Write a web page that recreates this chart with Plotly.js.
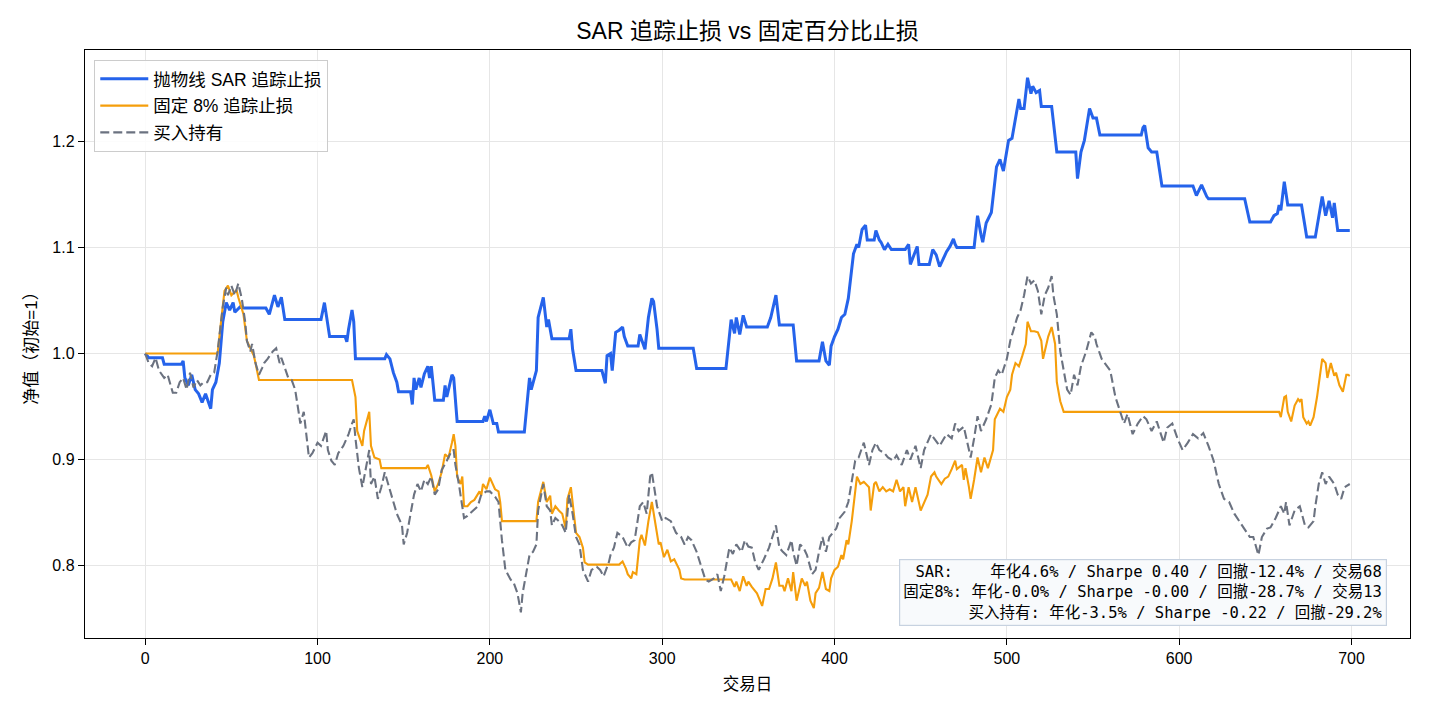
<!DOCTYPE html>
<html>
<head>
<meta charset="utf-8">
<script src="https://cdn.plot.ly/plotly-3.0.1.min.js"></script>
<style>html,body{margin:0;padding:0;background:#fff;}#chart{width:1430px;height:715px;}</style>
</head>
<body>
<div id="chart"></div>
<script>
// ---- data ----
const sarDay = [0,2,10,11,21,22,23,25,27,29,
 31,33,35,38,39,41,43,45,47,49,
 51,52,55,57,70,72,75,77,79,81,
 102,104,107,116,117,118,120,121,122,139,
 140,142,144,146,147,154,155,156,157,159,
 160,162,164,165,166,168,173,174,175,178,
 179,181,196,197,198,200,202,204,205,220,
 223,224,227,228,231,233,234,236,246,247,
 248,250,265,267,268,270,271,273,275,277,
 278,280,286,287,290,292,294,295,297,298,
 318,320,337,338,339,340,342,343,345,347,
 349,361,363,366,368,376,378,391,393,395,
 397,398,400,402,404,406,408,411,413,414,
 416,418,419,423,424,426,427,429,431,433,
 441,443,444,448,449,455,457,459,461,463,
 465,467,469,470,471,481,483,485,486,488,
 491,494,496,498,500,501,503,505,507,508,
 510,512,514,515,517,519,520,526,529,540,
 541,543,545,548,550,552,554,578,579,580,
 582,584,587,590,608,610,613,616,617,638,
 641,653,655,657,658,659,661,663,669,671,
 673,674,679,681,683,685,687,689,690,692,
 699];
const sarVal = [1.000,0.996,0.996,0.990,0.990,0.993,0.977,0.970,0.980,0.966,
 0.962,0.954,0.962,0.948,0.966,0.973,0.991,1.030,1.048,1.041,
 1.048,1.039,1.044,1.043,1.043,1.037,1.055,1.044,1.053,1.032,
 1.032,1.048,1.016,1.016,1.011,1.023,1.041,1.030,0.995,0.995,
 0.999,0.995,0.982,0.973,0.964,0.964,0.952,0.977,0.966,0.977,
 0.968,0.981,0.988,0.977,0.988,0.956,0.956,0.970,0.959,0.980,
 0.977,0.936,0.936,0.941,0.936,0.947,0.934,0.934,0.926,0.926,
 0.977,0.966,0.984,1.034,1.053,1.025,1.032,1.014,1.014,1.023,
 1.004,0.984,0.984,0.972,0.998,1.000,0.984,1.020,1.022,1.025,
 1.016,1.007,1.007,1.018,1.004,1.034,1.052,1.049,1.023,1.005,
 1.005,0.986,0.986,1.002,1.012,1.032,1.019,1.034,1.018,1.036,
 1.025,1.025,1.034,1.055,1.027,1.027,0.993,0.993,1.011,0.993,
 0.989,1.007,1.016,1.023,1.034,1.037,1.052,1.094,1.103,1.100,
 1.117,1.121,1.107,1.107,1.116,1.107,1.105,1.098,1.103,1.098,
 1.098,1.103,1.084,1.101,1.084,1.084,1.098,1.093,1.082,1.089,
 1.096,1.101,1.108,1.103,1.100,1.100,1.130,1.112,1.105,1.123,
 1.133,1.176,1.183,1.172,1.190,1.201,1.203,1.222,1.240,1.231,
 1.231,1.260,1.245,1.252,1.246,1.248,1.233,1.233,1.190,1.190,
 1.165,1.190,1.201,1.231,1.222,1.222,1.206,1.206,1.213,1.215,
 1.194,1.190,1.190,1.158,1.158,1.149,1.159,1.148,1.146,1.146,
 1.124,1.124,1.130,1.132,1.140,1.135,1.162,1.140,1.140,1.140,
 1.120,1.110,1.110,1.130,1.148,1.130,1.144,1.128,1.142,1.116,
 1.116];

const fixDay = [0,42,44,46,48,50,53,54,57,59,
 61,63,64,66,120,122,123,126,127,130,
 131,133,136,137,163,164,166,168,170,172,
 174,176,178,179,180,181,183,184,185,187,
 189,191,194,195,196,198,200,203,205,206,
 207,227,228,231,233,235,236,238,240,242,
 244,245,247,248,250,252,254,255,257,275,
 277,279,280,282,283,285,287,288,290,292,
 294,296,298,299,301,303,305,307,310,311,
 313,340,342,343,345,347,349,350,352,355,
 358,360,362,364,366,368,370,371,373,375,
 376,378,381,383,384,386,388,389,391,393,
 395,397,398,400,402,404,405,407,408,410,
 412,413,415,417,420,421,423,424,426,428,
 430,432,434,436,438,440,441,443,445,447,
 450,452,454,456,458,459,462,464,466,468,
 470,471,474,475,476,478,479,481,483,485,
 487,489,492,493,496,498,500,502,503,505,
 507,509,511,512,514,516,518,520,521,523,
 524,526,528,529,531,533,658,659,661,662,
 663,665,667,669,670,671,672,674,675,676,
 678,680,682,683,685,686,688,690,691,693,
 695,697,698,699];
const fixVal = [1.000,1.000,1.030,1.059,1.064,1.055,1.060,1.053,1.037,1.012,
 1.005,0.998,0.991,0.975,0.975,0.959,0.927,0.913,0.927,0.945,
 0.913,0.902,0.900,0.892,0.892,0.895,0.885,0.870,0.877,0.888,
 0.905,0.902,0.916,0.924,0.913,0.884,0.877,0.884,0.856,0.856,
 0.860,0.862,0.870,0.866,0.877,0.872,0.883,0.872,0.870,0.860,
 0.842,0.842,0.860,0.879,0.860,0.866,0.849,0.856,0.852,0.849,
 0.835,0.863,0.874,0.860,0.831,0.827,0.817,0.803,0.801,0.801,
 0.804,0.797,0.792,0.788,0.794,0.792,0.824,0.829,0.819,0.842,
 0.860,0.840,0.820,0.822,0.808,0.815,0.804,0.806,0.796,0.788,
 0.787,0.787,0.780,0.785,0.776,0.790,0.781,0.785,0.780,0.774,
 0.762,0.778,0.778,0.788,0.803,0.781,0.781,0.776,0.788,0.776,
 0.794,0.767,0.788,0.781,0.785,0.767,0.760,0.774,0.779,0.794,
 0.778,0.776,0.788,0.796,0.799,0.810,0.806,0.824,0.820,0.842,
 0.874,0.884,0.877,0.879,0.874,0.852,0.877,0.879,0.870,0.874,
 0.870,0.872,0.870,0.881,0.870,0.874,0.856,0.874,0.860,0.874,
 0.852,0.859,0.867,0.884,0.888,0.884,0.877,0.882,0.884,0.891,
 0.899,0.891,0.895,0.881,0.892,0.874,0.863,0.881,0.902,0.888,
 0.902,0.892,0.909,0.938,0.948,0.945,0.959,0.966,0.980,0.991,
 0.988,0.998,1.009,1.030,1.021,1.021,1.020,1.012,0.995,1.009,
 1.016,1.025,1.009,0.973,0.955,0.945,0.945,0.940,0.959,0.960,
 0.945,0.936,0.951,0.957,0.955,0.957,0.940,0.934,0.936,0.932,
 0.940,0.959,0.980,0.995,0.991,0.977,0.991,0.979,0.982,0.970,
 0.964,0.980,0.980,0.979];

const bhDay = [0,2,4,6,8,11,13,16,18,20,
 22,24,26,28,30,32,34,36,38,40,
 42,43,45,47,48,50,52,54,56,58,
 59,61,62,64,66,68,69,71,74,76,
 78,79,81,83,85,87,89,90,92,93,
 95,97,100,102,105,106,108,110,112,115,
 118,120,121,122,124,126,128,130,131,133,
 135,137,139,141,143,146,149,150,152,154,
 156,158,160,162,164,166,168,170,172,175,
 178,179,180,182,185,187,190,193,195,198,
 200,203,205,207,209,212,214,216,218,219,
 221,223,225,227,228,231,233,235,236,238,
 240,242,244,246,248,250,252,254,257,259,
 262,264,266,269,270,272,274,277,280,282,
 284,287,289,291,293,294,296,297,300,302,
 305,308,311,313,315,317,320,322,325,327,
 330,332,334,336,339,341,343,346,348,350,
 352,354,356,359,362,366,368,370,372,375,
 376,378,380,382,384,387,389,391,393,395,
 397,399,401,403,406,408,410,412,414,417,
 420,422,424,426,429,431,434,436,439,441,
 442,444,447,450,452,456,458,461,465,468,
 470,472,475,477,479,481,483,485,488,491,
 493,495,497,500,502,504,506,508,510,512,
 514,516,518,520,522,524,526,527,529,531,
 533,535,537,539,541,543,546,549,551,552,
 555,557,560,563,566,568,570,573,576,579,
 581,584,587,589,591,593,596,599,602,605,
 608,611,614,617,620,622,623,626,629,632,
 635,638,641,643,646,648,651,653,656,659,
 661,662,664,667,670,673,675,678,679,681,
 683,685,687,690,692,694,696,699];
const bhVal = [1.000,0.991,0.988,0.996,0.984,0.977,0.980,0.963,0.963,0.973,
 0.977,0.966,0.982,0.968,0.975,0.970,0.973,0.973,0.980,0.982,
 1.002,1.016,1.044,1.062,1.055,1.064,1.055,1.066,1.052,1.030,
 1.012,1.002,1.009,0.991,0.980,0.987,0.991,0.995,1.002,1.005,
 0.991,0.996,0.986,0.977,0.975,0.966,0.945,0.934,0.945,0.931,
 0.902,0.906,0.916,0.913,0.927,0.909,0.899,0.895,0.906,0.913,
 0.924,0.934,0.938,0.920,0.892,0.874,0.892,0.909,0.877,0.884,
 0.863,0.874,0.888,0.877,0.867,0.849,0.838,0.820,0.831,0.849,
 0.867,0.877,0.870,0.881,0.877,0.884,0.867,0.872,0.890,0.899,
 0.909,0.909,0.895,0.877,0.845,0.847,0.852,0.856,0.867,0.870,
 0.870,0.865,0.860,0.824,0.796,0.787,0.783,0.774,0.756,0.774,
 0.792,0.810,0.813,0.820,0.852,0.877,0.856,0.852,0.838,0.845,
 0.842,0.838,0.831,0.867,0.849,0.827,0.820,0.796,0.785,0.796,
 0.799,0.796,0.790,0.803,0.810,0.817,0.831,0.827,0.817,0.822,
 0.824,0.856,0.860,0.849,0.884,0.888,0.867,0.856,0.842,0.845,
 0.842,0.831,0.827,0.820,0.827,0.824,0.813,0.803,0.787,0.785,
 0.788,0.792,0.776,0.790,0.817,0.811,0.820,0.813,0.824,0.818,
 0.817,0.803,0.796,0.806,0.817,0.838,0.817,0.813,0.810,0.824,
 0.813,0.800,0.820,0.817,0.810,0.792,0.796,0.813,0.827,0.813,
 0.827,0.831,0.835,0.845,0.851,0.860,0.881,0.899,0.902,0.916,
 0.895,0.909,0.916,0.909,0.906,0.902,0.899,0.904,0.895,0.906,
 0.909,0.900,0.913,0.892,0.909,0.924,0.920,0.913,0.924,0.920,
 0.934,0.927,0.931,0.916,0.902,0.920,0.941,0.927,0.938,0.952,
 0.977,0.984,0.980,0.995,1.012,1.023,1.034,1.041,1.055,1.073,
 1.066,1.069,1.059,1.037,1.055,1.062,1.073,1.055,1.037,1.002,
 0.984,0.966,0.961,0.980,0.970,0.988,1.002,1.020,1.016,1.009,
 0.995,0.991,0.984,0.959,0.945,0.934,0.943,0.924,0.934,0.941,
 0.938,0.927,0.936,0.927,0.916,0.930,0.934,0.920,0.909,0.916,
 0.924,0.920,0.925,0.913,0.899,0.884,0.877,0.863,0.860,0.849,
 0.842,0.835,0.827,0.827,0.810,0.827,0.835,0.836,0.845,0.856,
 0.849,0.860,0.838,0.852,0.856,0.838,0.836,0.842,0.856,0.877,
 0.888,0.877,0.884,0.877,0.867,0.863,0.874,0.877];

const seriesNames = ['抛物线 SAR 追踪止损', '固定 8% 追踪止损', '买入持有'];
const xTicks = [0, 100, 200, 300, 400, 500, 600, 700];
const yTicks = [0.8, 0.9, 1.0, 1.1, 1.2];
const statLines = [
  'SAR:\u00a0\u00a0\u00a0\u00a0年化4.6% / Sharpe 0.40 / 回撤-12.4% / 交易68',
  '固定8%: 年化-0.0% / Sharpe -0.00 / 回撤-28.7% / 交易13',
  '买入持有: 年化-3.5% / Sharpe -0.22 / 回撤-29.2%'
];

// ---- chart ----
const FONT = 'Liberation Sans, Arial, "Noto Sans CJK SC", sans-serif';
const traces = [
  {x: sarDay, y: sarVal, name: seriesNames[0], type: 'scatter', mode: 'lines',
   line: {color: '#2563eb', width: 3}, legendgroup: 'a'},
  {x: fixDay, y: fixVal, name: seriesNames[1], type: 'scatter', mode: 'lines',
   line: {color: '#f59e0b', width: 2.1}, legendgroup: 'b'},
  {x: bhDay, y: bhVal, name: seriesNames[2], type: 'scatter', mode: 'lines',
   line: {color: '#6b7280', width: 2.1, dash: '9px,4px'}, legendgroup: 'c'}
];

const axisCommon = {
  showline: true, linecolor: '#000', linewidth: 1.2, mirror: true,
  ticks: 'outside', ticklen: 6, tickwidth: 1.2, tickcolor: '#000',
  showgrid: true, gridcolor: '#e6e6e6', gridwidth: 1, zeroline: false,
  tickfont: {family: FONT, size: 16, color: '#000'}
};

const layout = {
  width: 1430, height: 715,
  margin: {l: 85, r: 20, t: 50, b: 77},
  paper_bgcolor: '#fff', plot_bgcolor: '#fff',
  font: {family: FONT, color: '#000'},
  title: {text: 'SAR 追踪止损 vs 固定百分比止损', font: {family: FONT, size: 23, color: '#000'},
          x: 0.5, xref: 'paper', xanchor: 'center', y: 1 - 31 / 715, yref: 'container', yanchor: 'middle'},
  xaxis: Object.assign({}, axisCommon, {
    range: [-34.95, 733.95], tickvals: xTicks, ticktext: xTicks.map(String),
    title: {text: '交易日', font: {family: FONT, size: 16.5, color: '#000'}, standoff: 12}
  }),
  yaxis: Object.assign({}, axisCommon, {
    range: [0.7318, 1.2862], tickvals: yTicks, ticktext: yTicks.map(v => v.toFixed(1)),
    title: {text: '净值（初始=1）', font: {family: FONT, size: 17, color: '#000'}, standoff: 10}
  }),
  showlegend: true,
  legend: {
    x: 0.007, y: 0.983, xanchor: 'left', yanchor: 'top',
    bgcolor: 'rgba(255,255,255,0.85)', bordercolor: '#cccccc', borderwidth: 1,
    font: {family: FONT, size: 17.5, color: '#000'},
    tracegroupgap: 1, traceorder: 'grouped', itemwidth: 48
  },
  annotations: [{
    xref: 'paper', yref: 'paper', x: 0.983, y: 0.02, xanchor: 'right', yanchor: 'bottom',
    text: statLines.join('<br>'), align: 'right', showarrow: false,
    font: {family: '"DejaVu Sans Mono", "Noto Sans CJK SC", monospace', size: 15.5, color: '#000'},
    bgcolor: '#f8fafc', bordercolor: '#c7d2e0', borderwidth: 1.2, borderpad: 3
  }]
};

Plotly.newPlot('chart', traces, layout, {displayModeBar: false, staticPlot: true});
</script>
</body>
</html>
